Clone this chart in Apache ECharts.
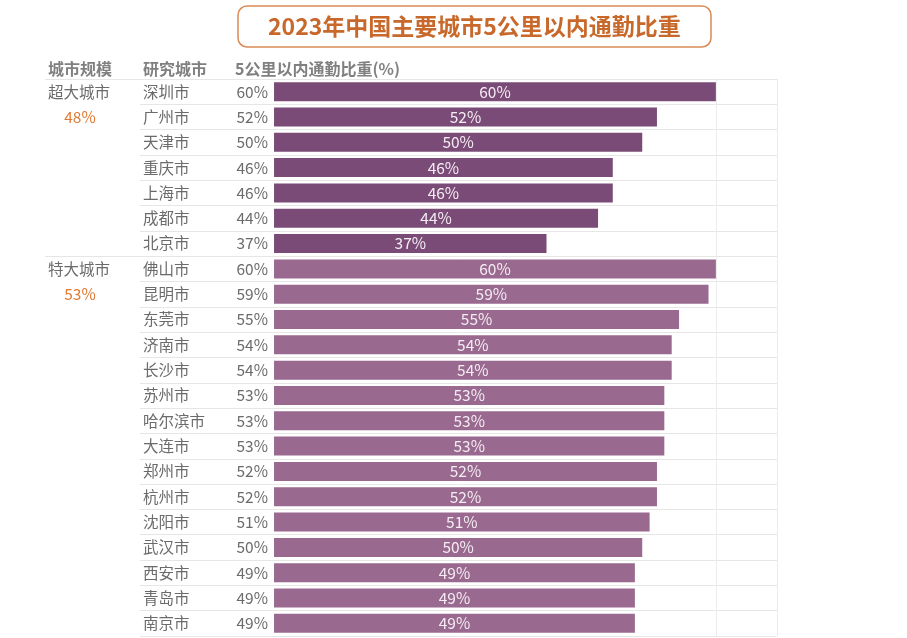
<!DOCTYPE html>
<html>
<head>
<meta charset="utf-8">
<script src="https://cdn.jsdelivr.net/npm/echarts@6/dist/echarts.min.js"></script>
<style>html,body{margin:0;padding:0;background:#fff}#c{width:907px;height:638px}</style>
</head>
<body>
<div id="c"></div>
<script>
const titleText = '2023年中国主要城市5公里以内通勤比重';
const headers = ['城市规模', '研究城市', '5公里以内通勤比重(%)'];
const cities = ['深圳市','广州市','天津市','重庆市','上海市','成都市','北京市',
  '佛山市','昆明市','东莞市','济南市','长沙市','苏州市','哈尔滨市','大连市','郑州市','杭州市','沈阳市','武汉市','西安市','青岛市','南京市'];
const values = [60,52,50,46,46,44,37,60,59,55,54,54,53,53,53,52,52,51,50,49,49,49];
const groupNames = ['超大城市','特大城市'];
const groupAverages = [48,53];
const groupSizes = [7,15];
const groupColors = ['#7b4b77','#99698f'];

const FONT = '"Noto Sans CJK SC", "Noto Sans", sans-serif';
const GRID_LEFT = 140, GRID_RIGHT = 130, GRID_TOP = 79, GRID_BOTTOM = 2;
const XMIN = -18.2, XMAX = 68.3;

function groupOf(i){ let s=0; for(let g=0; g<groupSizes.length; g++){ s+=groupSizes[g]; if(i<s) return g; } return groupSizes.length-1; }

const chart = echarts.init(document.getElementById('c'), null, {renderer:'canvas'});
chart.setOption({
  backgroundColor:'#fff',
  animation:false,
  title:{
    text:titleText, left:238, top:6,
    padding:[9,30,9,30],
    borderColor:'#d98a55', borderWidth:1.5, borderRadius:9,
    textStyle:{fontFamily:FONT, fontSize:23, fontWeight:'bold', color:'#c8692b'}
  },
  grid:{left:GRID_LEFT, right:GRID_RIGHT, top:GRID_TOP, bottom:GRID_BOTTOM},
  xAxis:{type:'value', min:XMIN, max:XMAX, show:false, splitLine:{show:false}},
  yAxis:{
    type:'category', data:cities, inverse:true,
    axisLine:{show:false}, axisTick:{show:false},
    splitLine:{show:true, lineStyle:{color:'#e6e6e6', width:1}},
    axisLabel:{
      inside:true, margin:3,
      formatter:(v, i)=> '{c|'+v+'}{v|'+values[i]+'%}',
      rich:{
        c:{width:85, align:'left', fontFamily:FONT, fontSize:15.5, color:'#6b6b6b'},
        v:{width:40, align:'right', fontFamily:FONT, fontSize:15.5, color:'#6b6b6b'}
      }
    }
  },
  series:[{
    type:'bar', data:values, barCategoryGap:'25%',
    itemStyle:{color:(p)=>groupColors[groupOf(p.dataIndex)]},
    label:{show:true, position:'inside', formatter:'{c}%', color:'#f4ecf3', fontFamily:FONT, fontSize:15.5},
    markLine:{
      silent:true, symbol:['none','none'], label:{show:false},
      lineStyle:{color:'#ececec', type:'solid', width:1},
      data:[{xAxis:60},{xAxis:XMAX}]
    }
  }]
});

// decorations derived from axis scales
const band = (638 - GRID_TOP - GRID_BOTTOM) / cities.length;
const graphics = [];
headers.forEach((h, k)=>{
  graphics.push({type:'text', left:[48,143,235][k], top:61,
    style:{text:h, font:'bold 16px '+FONT, fill:'#808080'}});
});
const xLeftLine = 45, xRight = 907 - GRID_RIGHT;
graphics.push({type:'line', shape:{x1:xLeftLine, y1:GRID_TOP+0.5, x2:GRID_LEFT, y2:GRID_TOP+0.5}, style:{stroke:'#e6e6e6', lineWidth:1}});
let start = 0;
groupNames.forEach((g, k)=>{
  const y0 = chart.convertToPixel({yAxisIndex:0}, cities[start]);
  const y1 = chart.convertToPixel({yAxisIndex:0}, cities[start+1]);
  graphics.push({type:'text', x:48, y:y0, style:{text:g, font:'15.5px '+FONT, fill:'#6b6b6b', textVerticalAlign:'middle', textAlign:'left'}});
  graphics.push({type:'text', x:80, y:y1, style:{text:groupAverages[k]+'%', font:'15.5px '+FONT, fill:'#e07a35', textVerticalAlign:'middle', textAlign:'center'}});
  if(k>0){
    const yb = Math.round(y0 - band/2) + 0.5;
    graphics.push({type:'line', shape:{x1:xLeftLine, y1:yb, x2:GRID_LEFT, y2:yb}, style:{stroke:'#e6e6e6', lineWidth:1}});
  }
  start += groupSizes[k];
});
chart.setOption({graphic:graphics});
</script>
</body>
</html>
